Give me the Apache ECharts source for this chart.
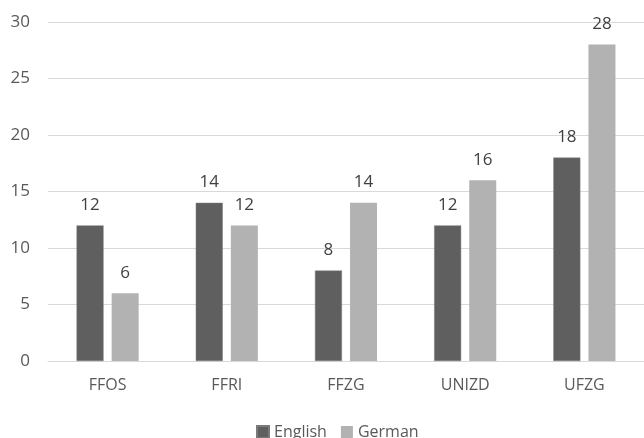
<!DOCTYPE html>
<html>
<head>
<meta charset="utf-8">
<script src="https://cdn.jsdelivr.net/npm/echarts@6/dist/echarts.min.js"></script>
<style>
  html, body { margin: 0; padding: 0; background: #fff; }
  #main { width: 644px; height: 438px; }
</style>
</head>
<body>
<div id="main"></div>
<script>
// chart data
var categories = ['FFOS', 'FFRI', 'FFZG', 'UNIZD', 'UFZG'];
var english = [12, 14, 8, 12, 18];
var german = [6, 12, 14, 16, 28];

var chart = echarts.init(document.getElementById('main'));
var font = 'Open Sans';

chart.setOption({
  animation: false,
  textStyle: { fontFamily: font },
  grid: { left: 48, right: 0, top: 22, bottom: 77 },
  legend: {
    left: 251,
    bottom: -7,
    itemWidth: 12,
    itemHeight: 12,
    itemGap: 14,
    itemTextGap: 4,
    icon: 'rect',
    textStyle: { fontSize: 16, color: '#595959', fontFamily: font },
    data: ['English', 'German']
  },
  xAxis: {
    type: 'category',
    data: categories,
    axisLine: { lineStyle: { color: '#d9d9d9', width: 1 } },
    axisTick: { show: false },
    axisLabel: { color: '#595959', fontSize: 16, margin: 16 }
  },
  yAxis: {
    type: 'value',
    min: 0,
    max: 30,
    interval: 5,
    axisLine: { show: false },
    axisTick: { show: false },
    axisLabel: { color: '#595959', fontSize: 17, margin: 18 },
    splitLine: { lineStyle: { color: '#d9d9d9', width: 1 } }
  },
  series: [
    {
      name: 'English',
      type: 'bar',
      data: english,
      barWidth: 27,
      barGap: '30%',
      itemStyle: { color: '#5f5f5f', borderColor: '#7a7a7a', borderWidth: 0.5 },
      label: { show: true, position: 'top', distance: 12, color: '#404040', fontSize: 17 }
    },
    {
      name: 'German',
      type: 'bar',
      data: german,
      barWidth: 27,
      itemStyle: { color: '#b2b2b2' },
      label: { show: true, position: 'top', distance: 12, color: '#404040', fontSize: 17 }
    }
  ]
});
</script>
</body>
</html>
